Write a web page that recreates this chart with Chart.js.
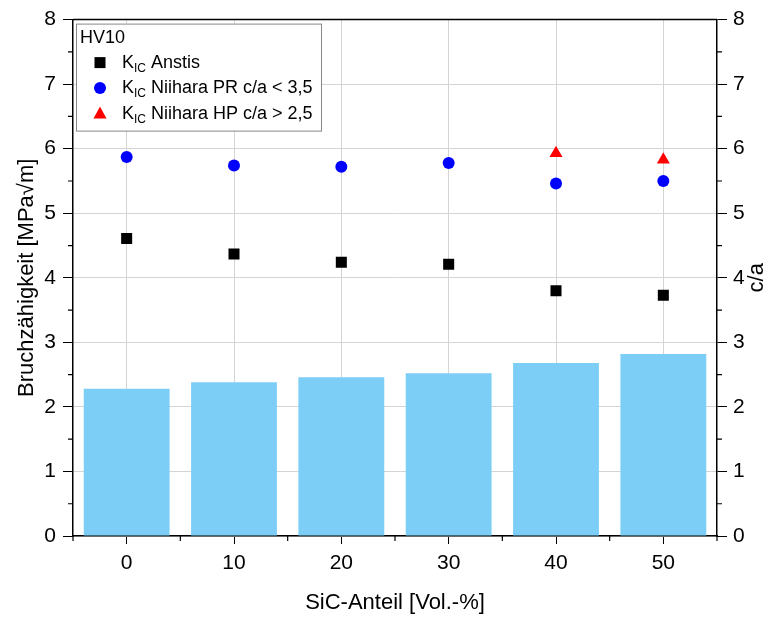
<!DOCTYPE html>
<html>
<head>
<meta charset="utf-8">
<script src="https://cdn.jsdelivr.net/npm/chart.js@4"></script>
<style>
  body { margin: 0; background: #fff; }
  canvas { display: block; }
</style>
</head>
<body>
<canvas id="chartKic" width="775" height="617"></canvas>
<script>
// Daten
const sicAnteil = [0, 10, 20, 30, 40, 50];
const kicAnstis = [4.61, 4.37, 4.24, 4.21, 3.80, 3.73];
const kicNiiharaPR = [5.87, 5.74, 5.72, 5.78, 5.46, 5.50];
const kicNiiharaHP = [null, null, null, null, 5.93, 5.83];
const caVerhaeltnis = [2.28, 2.38, 2.46, 2.52, 2.68, 2.82];
const yTickWerte = [0, 1, 2, 3, 4, 5, 6, 7, 8];

const schrift = 'Liberation Sans, Arial, sans-serif';

function punkte(werte) {
    return sicAnteil
        .map((x, i) => ({ x: x, y: werte[i] }))
        .filter(p => p.y !== null);
}

// Nebenticks, Rahmen oben, Titel rechts und Legende mit Indizes
const extrasPlugin = {
    id: 'extras',
    afterDraw(chart) {
        const c = chart.ctx;
        const a = chart.chartArea;
        const x = chart.scales.x;
        const y = chart.scales.y;
        c.save();
        c.strokeStyle = '#000';
        c.lineWidth = 1.5;
        c.beginPath();
        c.moveTo(a.left, a.top);
        c.lineTo(a.right, a.top);
        c.stroke();

        c.lineWidth = 1.2;
        c.beginPath();
        for (let v = 0.5; v < 8; v += 1) {
            const py = y.getPixelForValue(v);
            c.moveTo(a.left, py); c.lineTo(a.left - 5, py);
            c.moveTo(a.right, py); c.lineTo(a.right + 5, py);
        }
        for (let v = -5; v <= 55; v += 10) {
            const px = x.getPixelForValue(v);
            c.moveTo(px, a.bottom); c.lineTo(px, a.bottom + 5);
        }
        c.stroke();

        // Achsentitel rechts (von unten nach oben gelesen)
        c.save();
        c.translate(757, (a.top + a.bottom) / 2);
        c.rotate(-Math.PI / 2);
        c.fillStyle = '#000';
        c.font = '22px ' + schrift;
        c.textAlign = 'center';
        c.textBaseline = 'middle';
        c.fillText('c/a', 0, 0);
        c.restore();

        // Legende
        const lx = a.left + 3, ly = a.top + 4, lw = 245, lh = 107;
        c.fillStyle = '#fff';
        c.fillRect(lx, ly, lw, lh);
        c.strokeStyle = '#888';
        c.lineWidth = 1;
        c.strokeRect(lx + 0.5, ly + 0.5, lw, lh);

        c.fillStyle = '#000';
        c.textBaseline = 'middle';
        c.font = '18px ' + schrift;
        c.fillText('HV10', lx + 4, ly + 14);

        const eintraege = [
            { text: ' Anstis', farbe: '#000', stil: 'rect' },
            { text: ' Niihara PR c/a < 3,5', farbe: '#0000ff', stil: 'circle' },
            { text: ' Niihara HP c/a > 2,5', farbe: '#ff0000', stil: 'triangle' }
        ];
        eintraege.forEach((e, i) => {
            const cy = ly + 39 + i * 25.5;
            const mx = lx + 24;
            c.fillStyle = e.farbe;
            c.beginPath();
            if (e.stil === 'rect') {
                c.rect(mx - 5.5, cy - 5.5, 11, 11);
            } else if (e.stil === 'circle') {
                c.arc(mx, cy, 6, 0, Math.PI * 2);
            } else {
                c.moveTo(mx, cy - 7);
                c.lineTo(mx + 6.5, cy + 5);
                c.lineTo(mx - 6.5, cy + 5);
                c.closePath();
            }
            c.fill();

            c.fillStyle = '#000';
            let tx = lx + 46;
            c.font = '18px ' + schrift;
            c.fillText('K', tx, cy);
            tx += c.measureText('K').width;
            c.font = '12px ' + schrift;
            c.fillText('IC', tx, cy + 6);
            tx += c.measureText('IC').width;
            c.font = '18px ' + schrift;
            c.fillText(e.text, tx, cy);
        });
        c.restore();
    }
};

const config = {
    type: 'bar',
    data: {
        datasets: [
            {
                type: 'line',
                label: 'KIC Anstis',
                data: punkte(kicAnstis),
                showLine: false,
                pointStyle: 'rect',
                pointRadius: 7.8,
                backgroundColor: '#000',
                borderColor: '#000',
                borderWidth: 0,
                yAxisID: 'y',
                order: 1
            },
            {
                type: 'line',
                label: 'KIC Niihara PR c/a < 3,5',
                data: punkte(kicNiiharaPR),
                showLine: false,
                pointStyle: 'circle',
                pointRadius: 6,
                backgroundColor: '#0000ff',
                borderColor: '#0000ff',
                borderWidth: 0,
                yAxisID: 'y',
                order: 1
            },
            {
                type: 'line',
                label: 'KIC Niihara HP c/a > 2,5',
                data: punkte(kicNiiharaHP),
                showLine: false,
                pointStyle: 'triangle',
                pointRadius: 7.5,
                backgroundColor: '#ff0000',
                borderColor: '#ff0000',
                borderWidth: 0,
                yAxisID: 'y',
                order: 1
            },
            {
                type: 'bar',
                label: 'c/a',
                data: punkte(caVerhaeltnis),
                backgroundColor: 'rgb(125, 206, 247)',
                borderWidth: 0,
                barPercentage: 0.8,
                categoryPercentage: 1.0,
                yAxisID: 'y2',
                order: 2
            }
        ]
    },
    options: {
        responsive: false,
        animation: false,
        layout: { padding: { top: 16, left: 0, right: 0, bottom: 0 } },
        plugins: {
            legend: { display: false },
            tooltip: { enabled: false }
        },
        scales: {
            x: {
                type: 'linear',
                min: -5,
                max: 55,
                offset: false,
                afterBuildTicks: s => { s.ticks = sicAnteil.map(v => ({ value: v })); },
                afterFit: s => { s.height = 81; },
                grid: { offset: false, color: '#d4d4d4', lineWidth: 1, tickColor: '#000', tickLength: 8, drawOnChartArea: true },
                border: { color: '#000', width: 1.5 },
                ticks: { color: '#000', font: { family: schrift, size: 21 }, padding: 7, maxRotation: 0 },
                title: { display: true, text: 'SiC-Anteil [Vol.-%]', color: '#000', font: { family: schrift, size: 22 }, padding: { top: 0, bottom: 1 } }
            },
            y: {
                position: 'left',
                min: 0,
                max: 8,
                afterBuildTicks: s => { s.ticks = yTickWerte.map(v => ({ value: v })); },
                afterFit: s => { s.width = 73; },
                grid: { color: '#d4d4d4', lineWidth: 1, tickColor: '#000', tickLength: 10 },
                border: { color: '#000', width: 1.5 },
                ticks: { color: '#000', font: { family: schrift, size: 21 }, padding: 7 },
                title: { display: true, text: 'Bruchzähigkeit [MPa√m]', color: '#000', font: { family: schrift, size: 22 }, padding: { top: 14, bottom: 0 } }
            },
            y2: {
                position: 'right',
                min: 0,
                max: 8,
                afterBuildTicks: s => { s.ticks = yTickWerte.map(v => ({ value: v })); },
                afterFit: s => { s.width = 58; },
                grid: { drawOnChartArea: false, tickColor: '#000', tickLength: 10 },
                border: { color: '#000', width: 1.5 },
                ticks: { color: '#000', font: { family: schrift, size: 21 }, padding: 6 },
                title: { display: false }
            }
        }
    },
    plugins: [extrasPlugin]
};

new Chart(document.getElementById('chartKic').getContext('2d'), config);
</script>
</body>
</html>
